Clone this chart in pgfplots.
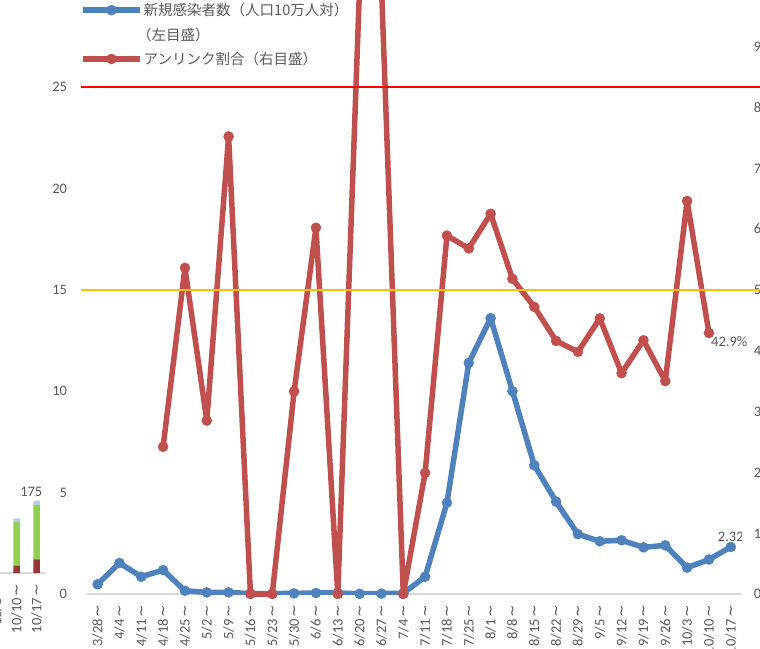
\documentclass[border=0pt]{standalone}
\usepackage{fontspec}
\setmainfont{Carlito}
\newfontfamily\cjk{Noto Sans CJK JP}
\newfontfamily\djv{DejaVu Sans}
\usepackage{pgfplots}
\pgfplotsset{compat=1.18}
\definecolor{sblue}{HTML}{4F81BD}
\definecolor{sred}{HTML}{C0504D}
\definecolor{tgray}{HTML}{595959}
\definecolor{agray}{HTML}{D9D9D9}
\definecolor{thr}{HTML}{FF0000}
\definecolor{thy}{HTML}{FFC000}
\definecolor{bgreen}{HTML}{92D050}
\definecolor{bdred}{HTML}{953735}
\definecolor{bltblue}{HTML}{B9CDE5}
\newcommand\wv{\kern1.5pt{\djv\fontsize{15}{15}\selectfont\textasciitilde}}
\newcommand\tf{\fontsize{14.5}{17}\selectfont}
\begin{document}
\begin{tikzpicture}
\useasboundingbox (-86.7pt,-54pt) rectangle (673.3pt,594pt);
% fragment of neighbouring bar chart
\begin{axis}[
  at={(-110pt,21pt)}, anchor=south west,
  scale only axis, width=69.4pt, height=82.6pt,
  xmin=-1, xmax=2.47, ymin=0, ymax=200,
  axis x line*=bottom, axis y line=none,
  x axis line style={draw=agray, line width=1.2pt, -},
  ybar stacked, bar width=6.5pt,
  xtick={0,1,2}, xticklabels={10/3\wv,10/10\wv,10/17\wv},
  major tick length=0pt,
  xticklabel style={rotate=90, anchor=east, inner sep=0pt, font=\tf, text=tgray},
  xticklabel shift=11pt,
  clip=false,
]
\addplot[fill=bdred, draw=none] coordinates {(0,22) (1,18) (2,33)};
\addplot[fill=bgreen, draw=none] coordinates {(0,73) (1,106) (2,132)};
\addplot[fill=bltblue, draw=none] coordinates {(0,5) (1,8) (2,10)};
\node[anchor=south, inner sep=0pt, font=\tf, text=tgray, xshift=-5.4pt, yshift=4pt] at (axis cs:2,175) {175};
\end{axis}
% left axis
\begin{axis}[
  at={(0pt,0pt)}, anchor=south west,
  scale only axis, width=655pt, height=608.4pt,
  xmin=-0.5, xmax=29.5, ymin=0, ymax=30,
  axis x line*=bottom, axis y line*=left,
  x axis line style={draw=agray, line width=1.2pt, -},
  y axis line style={draw=none},
  major tick length=0pt,
  ytick={0,5,10,15,20,25,30},
  yticklabel style={inner sep=0pt, font=\tf, text=tgray},
  yticklabel shift=19.5pt,
  /pgf/number format/assume math mode=true,
  xtick={0,...,29},
  xticklabels={3/28\wv,4/4\wv,4/11\wv,4/18\wv,4/25\wv,5/2\wv,5/9\wv,5/16\wv,5/23\wv,5/30\wv,6/6\wv,6/13\wv,6/20\wv,6/27\wv,7/4\wv,7/11\wv,7/18\wv,7/25\wv,8/1\wv,8/8\wv,8/15\wv,8/22\wv,8/29\wv,9/5\wv,9/12\wv,9/19\wv,9/26\wv,10/3\wv,10/10\wv,10/17\wv},
  xticklabel style={rotate=90, anchor=east, inner sep=0pt, font=\tf, text=tgray},
  xticklabel shift=11pt,
]
\addplot[sblue, line width=5.5pt, line join=round, mark=*, mark size=5pt, mark options={line width=0.5pt, fill=sblue}] coordinates {
(0,0.48)(1,1.53)(2,0.85)(3,1.18)(4,0.16)(5,0.08)(6,0.08)(7,0.02)(8,0.02)(9,0.03)(10,0.05)(11,0.05)(12,0.01)(13,0.02)(14,0.04)(15,0.85)(16,4.5)(17,11.4)(18,13.6)(19,10.0)(20,6.35)(21,4.55)(22,2.95)(23,2.6)(24,2.65)(25,2.3)(26,2.4)(27,1.3)(28,1.7)(29,2.32)};
\node[anchor=south, inner sep=0pt, font=\tf, text=tgray, yshift=5pt] at (axis cs:29,2.32) {2.32};
\end{axis}
% right axis
\begin{axis}[
  at={(0pt,0pt)}, anchor=south west,
  scale only axis, width=655pt, height=608.4pt,
  xmin=-0.5, xmax=29.5, ymin=0, ymax=100,
  axis x line=none, axis y line*=right,
  y axis line style={draw=none},
  major tick length=0pt,
  ytick={0,10,...,100},
  yticklabels={0\%,10\%,20\%,30\%,40\%,50\%,60\%,70\%,80\%,90\%,100\%},
  yticklabel style={inner sep=0pt, font=\tf, text=tgray, anchor=west},
  yticklabel shift=12pt,
  clip=false,
  legend cell align=left,
  legend style={at={(-0.0102,0.9730)}, anchor=north west, draw=none, fill=none,
    inner sep=0pt, row sep=8.5pt, font={\cjk\fontsize{14.5}{16}\selectfont}, text=tgray,
    nodes={inner sep=1pt}},
  legend image code/.code={\draw[mark repeat=2,mark phase=2,#1] plot coordinates {(0pt,0pt) (28.5pt,0pt) (57pt,0pt)};},
]
\addlegendimage{sblue, line width=5.5pt, mark=*, mark size=5pt, mark options={line width=0.5pt, fill=sblue}}
\addlegendentry{新規感染者数（人口10万人対）}
\addlegendimage{empty legend}
\addlegendentry{\kern-0.45em（左目盛）}
\addplot[sred, line width=5.5pt, line join=round, mark=*, mark size=5pt, mark options={line width=0.5pt, fill=sred}] coordinates {
(3,24.2)(4,53.6)(5,28.5)(6,75.2)(7,0)(8,0)(9,33.3)(10,60.2)(11,0)(12,100)(13,100)(14,0)(15,19.9)(16,58.9)(17,56.8)(18,62.5)(19,51.8)(20,47.2)(21,41.6)(22,39.8)(23,45.3)(24,36.3)(25,41.7)(26,35.0)(27,64.6)(28,42.9)};
\addlegendentry{アンリンク割合（右目盛）}
\addplot[thr, line width=2pt, forget plot] coordinates {(-0.78,83.333) (31,83.333)};
\addplot[thy, line width=2pt, forget plot] coordinates {(-0.78,50) (31,50)};
\node[anchor=west, inner sep=0pt, font=\tf, text=tgray, xshift=2pt, yshift=-8.5pt] at (axis cs:28,42.9) {42.9\%};
\end{axis}
\end{tikzpicture}
\end{document}
